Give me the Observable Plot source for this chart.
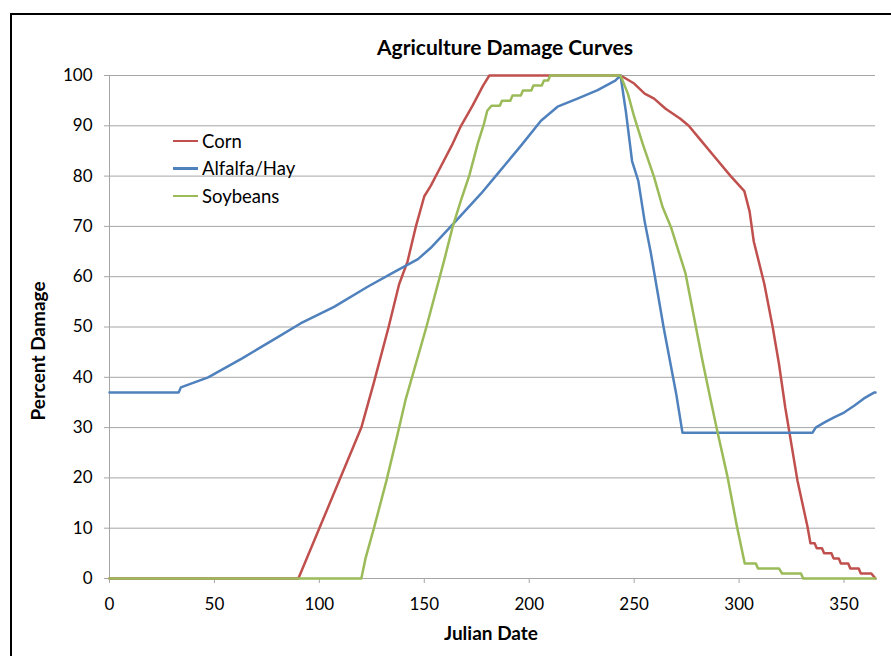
<!DOCTYPE html>
<html>
<head>
<meta charset="utf-8">
<script src="https://cdn.jsdelivr.net/npm/d3@7"></script>
<script src="https://cdn.jsdelivr.net/npm/@observablehq/plot@0.6"></script>
<style>
  html, body { margin: 0; padding: 0; background: #fff; }
  #wrap { position: relative; width: 891px; height: 656px; overflow: hidden; font-family: Lato, "Open Sans", sans-serif; }
  #frame { position: absolute; left: 10px; top: 13px; width: 900px; height: 700px; border-left: 2px solid #000; border-top: 2px solid #000; }
  #chart { position: absolute; left: 0; top: 0; }
  .lbl { position: absolute; font-weight: bold; color: #000; white-space: nowrap; line-height: 1.2; }
  #title { left: 505px; top: 34px; transform: translateX(-50%); font-size: 21px; }
  #xlab { left: 491px; top: 622px; transform: translateX(-50%); font-size: 19px; }
  #ylab { left: 38px; top: 351px; transform: translate(-50%, -50%) rotate(-90deg); font-size: 19px; }
  #legend { position: absolute; left: 173px; top: 127px; font-size: 18.5px; }
  .item { display: flex; align-items: center; height: 27.5px; }
  .sw { width: 25px; height: 2.5px; margin-right: 4px; }
</style>
</head>
<body>
<div id="wrap">
  <div id="frame"></div>
  <div id="chart"></div>
  <div id="title" class="lbl">Agriculture Damage Curves</div>
  <div id="xlab" class="lbl">Julian Date</div>
  <div id="ylab" class="lbl">Percent Damage</div>
  <div id="legend"></div>
</div>
<script>
const seriesNames = ["Corn", "Alfalfa/Hay", "Soybeans"];
const seriesColors = ["#c0504d", "#4f81bd", "#9bbb59"];
const xTicks = [0, 50, 100, 150, 200, 250, 300, 350];
const yTicks = [0, 10, 20, 30, 40, 50, 60, 70, 80, 90, 100];

const cornDays = [0, 90, 120, 126, 133, 138, 142, 146, 150, 153, 158, 163, 167.5, 173, 178, 181,
  243.5, 246, 250, 255, 259.5, 265, 272, 276, 282, 288, 296, 302.5, 305, 307, 312, 316, 319, 322, 327.8, 332.6,
  334, 336, 337, 339.5, 340.5, 344, 345, 347.5, 348.5, 352, 353, 357, 358, 363, 365];
const cornVals = [0, 0, 30, 39, 50, 58.5, 63, 70, 76, 78, 82, 86, 90, 94, 98, 100,
  100, 99.4, 98.4, 96.4, 95.4, 93.4, 91.4, 90, 87, 84, 80, 77, 73, 67, 58.6, 50, 42.7, 34, 19.5, 10.3,
  7, 7, 6, 6, 5, 5, 4, 4, 3, 3, 2, 2, 1, 1, 0];

const alfalfaDays = [0, 33, 34, 47, 63, 79, 91, 107, 123, 136, 147, 153, 164, 177, 185, 196, 205.6, 213.5, 223, 232.6, 241, 243.5,
  246, 249, 252, 255, 258, 261, 264, 267, 270, 273, 335, 336.5, 340.5, 345, 350, 355, 359.5, 364.5, 365];
const alfalfaVals = [37, 37, 38, 40, 43.7, 47.7, 50.7, 54, 58, 61, 63.5, 65.7, 70.6, 76.5, 80.5, 86, 91, 93.8, 95.4, 97.1, 99, 100,
  93, 83, 79, 71, 64.6, 57.3, 50, 43.4, 36.8, 29, 29, 30, 31, 32, 33, 34.4, 35.8, 37, 37];

const soyDays = [0, 120, 122, 126, 132, 137, 141, 151, 159.5, 163.5, 167.5, 171.5, 175.5, 178.5, 180, 182,
  186, 187, 191, 192, 196, 197, 201, 202, 206, 207, 209, 210, 243.5,
  247, 250, 254, 259.5, 263.5, 267.5, 271.5, 274.5, 278.5, 282.5, 286.5, 289.5, 294.5, 299, 302.7,
  308, 309, 319, 320.5, 329.5, 330.5, 365];
const soyVals = [0, 0, 4, 10, 19.5, 28.2, 35.4, 50, 63.3, 69.9, 75.2, 80.2, 86.5, 90.5, 93, 94,
  94, 95, 95, 96, 96, 97, 97, 98, 98, 99, 99, 100, 100,
  96.4, 91.8, 86.5, 79.8, 73.9, 69.9, 64.6, 60.6, 52, 43.4, 35.4, 29.5, 20.2, 10.3, 3,
  3, 2, 2, 1, 1, 0, 0];

const rows = [];
[[cornDays, cornVals], [alfalfaDays, alfalfaVals], [soyDays, soyVals]].forEach(([ds, vs], i) => {
  ds.forEach((d, j) => rows.push({series: seriesNames[i], day: d, value: vs[j]}));
});

const chart = Plot.plot({
  width: 891,
  height: 656,
  marginLeft: 109,
  marginRight: 16,
  marginTop: 75,
  marginBottom: 78,
  style: {fontFamily: "Lato, 'Open Sans', sans-serif", fontSize: "17px", color: "#000", background: "transparent"},
  x: {domain: [0, 365]},
  y: {domain: [0, 100]},
  color: {domain: seriesNames, range: seriesColors},
  marks: [
    Plot.gridY(yTicks, {stroke: "#a6a6a6", strokeOpacity: 1}),
    Plot.ruleX([0], {stroke: "#a6a6a6"}),
    Plot.axisY(yTicks, {tickSize: 5, tickPadding: 12, stroke: "#a6a6a6", fill: "#000", label: null, fontSize: 17}),
    Plot.axisX(xTicks, {tickSize: 5, tickPadding: 14, stroke: "#a6a6a6", fill: "#000", label: null, fontSize: 17}),
    Plot.line(rows, {x: "day", y: "value", z: "series", stroke: "series", strokeWidth: 2.5, strokeLinejoin: "round"})
  ]
});
document.getElementById("chart").appendChild(chart);

const legend = document.getElementById("legend");
seriesNames.forEach((name, i) => {
  const item = document.createElement("div");
  item.className = "item";
  const sw = document.createElement("div");
  sw.className = "sw";
  sw.style.background = seriesColors[i];
  const t = document.createElement("span");
  t.textContent = name;
  item.appendChild(sw);
  item.appendChild(t);
  legend.appendChild(item);
});
</script>
</body>
</html>
